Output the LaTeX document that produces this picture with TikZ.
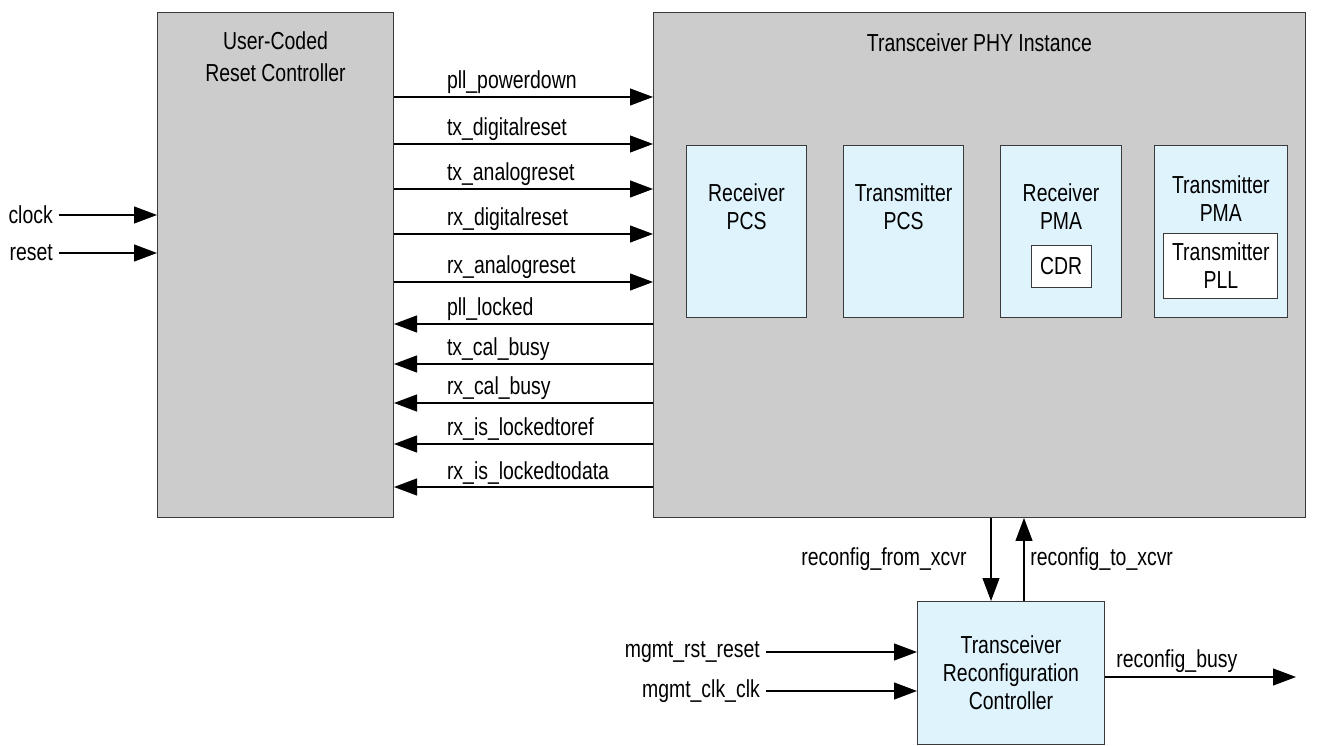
\documentclass[tikz,border=0pt]{standalone}
\usepackage{fontspec}
\setmainfont{Liberation Sans}[FakeStretch=0.79]
\usetikzlibrary{arrows.meta, positioning}
\definecolor{blkgray}{HTML}{CCCCCC}
\definecolor{blkblue}{HTML}{DFF3FD}
\definecolor{edgegray}{HTML}{3A3A3A}

\begin{document}
\begin{tikzpicture}[x=0.02cm, y=-0.02cm,
  font=\fontsize{14}{15.9}\selectfont,
  bigbox/.style={draw=edgegray, fill=blkgray, line width=0.6pt, anchor=north west,
    minimum height=10.1cm},
  blk/.style={draw=edgegray, fill=blkblue, line width=0.6pt, anchor=north west,
    minimum width=2.4cm, minimum height=3.44cm},
  sub/.style={draw=edgegray, fill=white, line width=0.6pt, align=center},
  ttl/.style={align=center, anchor=north, inner sep=0pt},
  sig/.style={anchor=base west, yshift=0.16cm},
  pin/.style={anchor=east},
  arr/.style={-{Triangle[length=0.46cm, width=0.34cm]}, line width=0.6pt}
]
\useasboundingbox (0,0) rectangle (1326,746);

% main blocks
\node[bigbox, minimum width=4.72cm] (rst) at (157,12) {};
\node[ttl, font=\fontsize{14}{18}\selectfont, below=0.39cm of rst.north] (rsttl)
  {User-Coded\\Reset Controller};
\node[bigbox, minimum width=13.04cm] (phy) at (653,12) {};
\node[ttl, below=0.43cm of phy.north] (phyttl) {Transceiver PHY Instance};

% blocks inside the PHY
\node[blk, label={[ttl, yshift=-0.77cm]north:Receiver\\PCS}] (rxpcs) at (686,145) {};
\node[blk, right=0.72cm of rxpcs, label={[ttl, yshift=-0.77cm]north:Transmitter\\PCS}] (txpcs) {};
\node[blk, right=0.72cm of txpcs, minimum width=2.42cm,
  label={[ttl, yshift=-0.77cm]north:Receiver\\PMA}] (rxpma) {};
\node[blk, right=0.64cm of rxpma, minimum width=2.65cm,
  label={[ttl, yshift=-0.61cm]north:Transmitter\\PMA}] (txpma) {};
\node[sub, minimum width=1.2cm, minimum height=0.84cm, below=2cm of rxpma.north] (cdr) {CDR};
\node[sub, minimum width=2.28cm, minimum height=1.3cm, below=1.76cm of txpma.north] (txpll) {Transmitter\\PLL};

% reconfiguration controller
\node[blk, minimum width=3.74cm, minimum height=2.86cm, align=center] (rcc) at (917,601)
  {Transceiver\\Reconfiguration\\Controller};

% inputs of the reset controller
\node[pin] (clk) at (59,215) {clock};
\node[pin] (rstin) at (59,253) {reset};
\draw[arr] (clk) -- (rst.west |- clk);
\draw[arr] (rstin) -- (rst.west |- rstin);

% reset controller -> PHY
\draw[arr] (rst.east |- 0,97) -- (phy.west |- 0,97) node[sig, pos=0.18] {pll\_powerdown};
\draw[arr] (rst.east |- 0,144) -- (phy.west |- 0,144) node[sig, pos=0.18] {tx\_digitalreset};
\draw[arr] (rst.east |- 0,189) -- (phy.west |- 0,189) node[sig, pos=0.18] {tx\_analogreset};
\draw[arr] (rst.east |- 0,234) -- (phy.west |- 0,234) node[sig, pos=0.18] {rx\_digitalreset};
\draw[arr] (rst.east |- 0,282) -- (phy.west |- 0,282) node[sig, pos=0.18] {rx\_analogreset};

% PHY -> reset controller
\draw[arr] (phy.west |- 0,324) -- (rst.east |- 0,324) node[sig, pos=0.82] {pll\_locked};
\draw[arr] (phy.west |- 0,364) -- (rst.east |- 0,364) node[sig, pos=0.82] {tx\_cal\_busy};
\draw[arr] (phy.west |- 0,403) -- (rst.east |- 0,403) node[sig, pos=0.82] {rx\_cal\_busy};
\draw[arr] (phy.west |- 0,444) -- (rst.east |- 0,444) node[sig, pos=0.82] {rx\_is\_lockedtoref};
\draw[arr] (phy.west |- 0,487) -- (rst.east |- 0,487) node[sig, pos=0.82] {rx\_is\_lockedtodata};

% PHY <-> reconfiguration controller
\draw[arr] (991,0 |- phy.south) -- (991,0 |- rcc.north)
  node[midway, pin, xshift=-0.36cm] {reconfig\_from\_xcvr};
\draw[arr] (1024,0 |- rcc.north) -- (1024,0 |- phy.south)
  node[midway, anchor=west] {reconfig\_to\_xcvr};

% management ports
\node[pin] (mrst) at (766,652) {mgmt\_rst\_reset};
\node[pin] (mclk) at (766,691) {mgmt\_clk\_clk};
\draw[arr] (mrst) -- (rcc.west |- mrst);
\draw[arr] (mclk) -- (rcc.west |- mclk);

\coordinate (busy) at (1296,677);
\draw[arr] (rcc.east |- busy) -- (busy) node[sig, pos=0.026, yshift=0.04cm] {reconfig\_busy};
\end{tikzpicture}
\end{document}
